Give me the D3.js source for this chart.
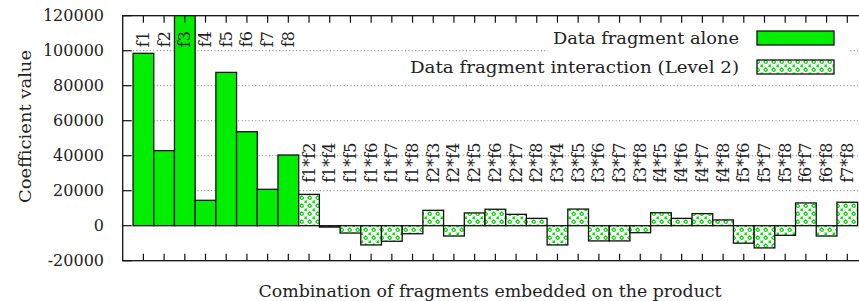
<!DOCTYPE html>
<html>
<head>
<meta charset="utf-8">
<script src="https://cdn.jsdelivr.net/npm/d3@7"></script>
<style>
  body { margin: 0; background: #fff; }
  text { font-family: "DejaVu Serif", serif; fill: #222; }
</style>
</head>
<body>
<div id="chart"></div>
<script>
// single fragments
var singleNames = ['f1', 'f2', 'f3', 'f4', 'f5', 'f6', 'f7', 'f8'];
var singleValues = [98500, 42900, 130000, 14500, 87600, 53700, 20800, 40400];

// level 2 interactions
var pairNames = ['f1*f2', 'f1*f4', 'f1*f5', 'f1*f6', 'f1*f7', 'f1*f8',
    'f2*f3', 'f2*f4', 'f2*f5', 'f2*f6', 'f2*f7', 'f2*f8',
    'f3*f4', 'f3*f5', 'f3*f6', 'f3*f7', 'f3*f8',
    'f4*f5', 'f4*f6', 'f4*f7', 'f4*f8',
    'f5*f6', 'f5*f7', 'f5*f8', 'f6*f7', 'f6*f8', 'f7*f8'];
var pairValues = [17900, -800, -4200, -11000, -8900, -4600,
    8800, -5900, 7300, 9400, 6500, 4200,
    -11000, 9500, -8700, -8700, -4000,
    7400, 4200, 6900, 3300,
    -10000, -12700, -5500, 13000, -5900, 13400];

var yTicks = [-20000, 0, 20000, 40000, 60000, 80000, 100000, 120000];
var legendLabels = ['Data fragment alone', 'Data fragment interaction (Level 2)'];

var width = 859, height = 301;
var pLeft = 122.7, pRight = 868, pTop = 15.7, pBottom = 260.7;

var categories = singleNames.concat(pairNames);
var bars = [];
singleNames.forEach(function (n, i) { bars.push({ name: n, value: singleValues[i], kind: 0 }); });
pairNames.forEach(function (n, i) { bars.push({ name: n, value: pairValues[i], kind: 1 }); });

var step = (pRight - pLeft) / (categories.length + 1);
var x = d3.scaleBand()
    .domain(categories)
    .range([pLeft + step / 2, pRight - step / 2])
    .padding(0);
var y = d3.scaleLinear().domain([-20000, 120000]).range([pBottom, pTop]);

var svg = d3.select('#chart').append('svg')
    .attr('width', width)
    .attr('height', height);

var defs = svg.append('defs');
defs.append('clipPath').attr('id', 'plotclip')
    .append('rect')
    .attr('x', pLeft).attr('y', pTop)
    .attr('width', pRight - pLeft).attr('height', pBottom - pTop);

// pattern fill for interactions
var pat = defs.append('pattern')
    .attr('id', 'hatch')
    .attr('patternUnits', 'userSpaceOnUse')
    .attr('width', 8).attr('height', 8);
pat.append('rect').attr('width', 8).attr('height', 8).attr('fill', '#fff');
pat.append('path')
    .attr('d', 'M0.6,0.6 L3,3 M3,0.6 L0.6,3')
    .attr('stroke', '#00dd00').attr('stroke-width', 1.2);
pat.append('path')
    .attr('d', 'M5.8,3.8 L7.8,5.8 L5.8,7.8 L3.8,5.8 Z')
    .attr('fill', 'none')
    .attr('stroke', '#00dd00').attr('stroke-width', 1.2);

// grid
svg.append('g').selectAll('line')
    .data(yTicks.filter(function (t) { return t > 0 && t < 120000; }))
    .enter().append('line')
    .attr('x1', pLeft).attr('x2', pRight)
    .attr('y1', function (d) { return y(d); })
    .attr('y2', function (d) { return y(d); })
    .attr('stroke', '#777')
    .attr('stroke-width', 1)
    .attr('stroke-dasharray', '1,2.4');

// legend background covers grid
svg.append('rect')
    .attr('x', 548).attr('y', 27)
    .attr('width', 302).attr('height', 51)
    .attr('fill', '#fff');

// bars
svg.append('g').attr('clip-path', 'url(#plotclip)')
    .selectAll('rect')
    .data(bars)
    .enter().append('rect')
    .attr('x', function (d) { return x(d.name); })
    .attr('width', x.bandwidth())
    .attr('y', function (d) { return y(Math.max(0, d.value)); })
    .attr('height', function (d) { return Math.abs(y(d.value) - y(0)); })
    .attr('fill', function (d) { return d.kind === 0 ? '#00ee00' : 'url(#hatch)'; })
    .attr('stroke', '#111')
    .attr('stroke-width', 1.3);

// frame
svg.append('rect')
    .attr('x', pLeft).attr('y', pTop)
    .attr('width', pRight - pLeft).attr('height', pBottom - pTop)
    .attr('fill', 'none')
    .attr('stroke', '#111')
    .attr('stroke-width', 1.3);

// x ticks bottom and top, pointing inwards
var tk = svg.append('g').attr('stroke', '#111').attr('stroke-width', 1.2);
categories.forEach(function (c) {
    var cx = x(c) + x.bandwidth() / 2;
    tk.append('line').attr('x1', cx).attr('x2', cx).attr('y1', pBottom).attr('y2', pBottom - 7);
    tk.append('line').attr('x1', cx).attr('x2', cx).attr('y1', pTop).attr('y2', pTop + 7);
});
yTicks.forEach(function (t) {
    tk.append('line').attr('x1', pLeft).attr('x2', pLeft + 9).attr('y1', y(t)).attr('y2', y(t));
});

// y tick labels
svg.append('g').selectAll('text')
    .data(yTicks)
    .enter().append('text')
    .attr('x', 104)
    .attr('y', function (d) { return y(d) + 5.5; })
    .attr('text-anchor', 'end')
    .style('font-size', '16px')
    .text(function (d) { return d; });

// rotated category labels
svg.append('g').selectAll('text')
    .data(bars)
    .enter().append('text')
    .attr('transform', function (d) {
        var cx = x(d.name) + x.bandwidth() / 2 + 5.5;
        var ly = d.kind === 0 ? y(102000) : y(24500);
        return 'translate(' + cx + ',' + ly + ') rotate(-90)';
    })
    .style('font-size', '16px')
    .text(function (d) { return d.name; });

// axis titles
svg.append('text')
    .attr('x', 490).attr('y', 297)
    .attr('text-anchor', 'middle')
    .attr('textLength', 463)
    .attr('lengthAdjust', 'spacingAndGlyphs')
    .style('font-size', '16px')
    .text('Combination of fragments embedded on the product');

svg.append('text')
    .attr('transform', 'translate(31,126.5) rotate(-90)')
    .attr('text-anchor', 'middle')
    .attr('textLength', 153)
    .attr('lengthAdjust', 'spacingAndGlyphs')
    .style('font-size', '16px')
    .text('Coefficient value');

// legend
var legendWidths = [186, 329];
var lg = svg.append('g');
legendLabels.forEach(function (l, i) {
    var ly = 38 + i * 29;
    lg.append('text')
        .attr('x', 739).attr('y', ly + 5.5)
        .attr('text-anchor', 'end')
        .attr('textLength', legendWidths[i])
        .attr('lengthAdjust', 'spacingAndGlyphs')
        .style('font-size', '16px')
        .text(l);
    lg.append('rect')
        .attr('x', 757).attr('y', ly - 7)
        .attr('width', 77).attr('height', 14)
        .attr('fill', i === 0 ? '#00ee00' : 'url(#hatch)')
        .attr('stroke', '#111')
        .attr('stroke-width', 1.3);
});
</script>
</body>
</html>
